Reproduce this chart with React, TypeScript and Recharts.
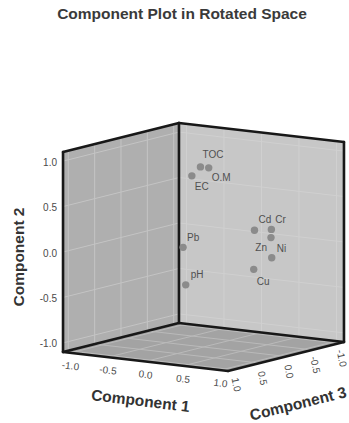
import React from 'react';
import { ScatterChart, Scatter, XAxis, YAxis } from 'recharts';

const variables = ['TOC', 'O.M', 'EC', 'Pb', 'pH', 'Cd', 'Cr', 'Zn', 'Ni', 'Cu'];
const component1 = [0.1, 0.21, -0.05, 0.29, 0.29, 0.75, 0.94, 0.97, 0.98, 0.81];
const component2 = [0.92, 0.92, 0.8, 0.14, -0.28, 0.27, 0.29, 0.21, -0.01, -0.14];
const component3 = [0.2, 0.2, 0.15, 0.8, 0.75, 0.1, 0.05, 0.1, 0.1, 0.2];

const tickValues = [-1.0, -0.5, 0.0, 0.5, 1.0];
const tickLabels = ['-1.0', '-0.5', '0.0', '0.5', '1.0'];

const FONT = '"Liberation Sans", Arial, sans-serif';
const L = 1.1; // box half-size

// oblique projection of the 3D box onto the page
const project = (c1: number, c2: number, c3: number) => ({
  x: 0.75 * c1 - 0.527 * c3,
  y: 0.909 * c2 - 0.0864 * c1 - 0.132 * c3,
});

type P3 = number[];
const toPath = (pts: P3[]) => pts.map((p) => project(p[0], p[1], p[2]));

// where each point label sits relative to its dot
const labelOffset: Record<string, { dx: number; dy: number; anchor: string }> = {
  TOC: { dx: 2, dy: -12, anchor: 'start' },
  'O.M': { dx: 3, dy: 10, anchor: 'start' },
  EC: { dx: 3, dy: 11, anchor: 'start' },
  Pb: { dx: 4, dy: -10, anchor: 'start' },
  pH: { dx: 5, dy: -10, anchor: 'start' },
  Cd: { dx: 4, dy: -11, anchor: 'start' },
  Cr: { dx: 4, dy: -10, anchor: 'start' },
  Zn: { dx: -4, dy: 10, anchor: 'end' },
  Ni: { dx: 5, dy: -9, anchor: 'start' },
  Cu: { dx: 3, dy: 12, anchor: 'start' },
};

const points = variables.map((name, i) => ({
  ...project(component1[i], component2[i], component3[i]),
  name,
}));

const faces = [
  { key: 'floor', fill: '#a3a3a3', pts: [[-L, -L, L], [-L, -L, -L], [L, -L, -L], [L, -L, L]] },
  { key: 'left', fill: '#afafaf', pts: [[-L, -L, L], [-L, L, L], [-L, L, -L], [-L, -L, -L]] },
  { key: 'right', fill: '#c7c7c7', pts: [[-L, -L, -L], [-L, L, -L], [L, L, -L], [L, -L, -L]] },
];

const gridLines: { pts: P3[]; stroke: string }[] = [];
tickValues.forEach((t) => {
  gridLines.push({ pts: [[-L, t, -L], [-L, t, L]], stroke: '#c4c4c4' });
  gridLines.push({ pts: [[-L, -L, t], [-L, L, t]], stroke: '#c4c4c4' });
  gridLines.push({ pts: [[-L, t, -L], [L, t, -L]], stroke: '#d0d0d0' });
  gridLines.push({ pts: [[t, -L, -L], [t, L, -L]], stroke: '#d0d0d0' });
  gridLines.push({ pts: [[t, -L, -L], [t, -L, L]], stroke: '#bababa' });
  gridLines.push({ pts: [[-L, -L, t], [L, -L, t]], stroke: '#bababa' });
});

const edges: P3[][] = [
  [[-L, -L, L], [-L, L, L]],
  [[-L, L, L], [-L, L, -L]],
  [[-L, -L, -L], [-L, L, -L]],
  [[-L, L, -L], [L, L, -L]],
  [[L, L, -L], [L, -L, -L]],
  [[-L, -L, L], [-L, -L, -L]],
  [[-L, -L, -L], [L, -L, -L]],
  [[-L, -L, L], [L, -L, L]],
  [[L, -L, L], [L, -L, -L]],
];

const c2Ticks = tickValues.map((t, i) => ({ ...project(-L, t, L), label: tickLabels[i] }));
const c1Ticks = tickValues.map((t, i) => ({ ...project(t, -L, L), label: tickLabels[i] }));
const c3Ticks = tickValues.map((t, i) => ({ ...project(L, -L, t), label: tickLabels[i] }));

const axisTitles = [
  { ...project(0, -L, L), label: 'Component 1', dx: -5, dy: 39, rot: 7 },
  { ...project(-L, 0, L), label: 'Component 2', dx: -45, dy: 5, rot: -90 },
  { ...project(L, -L, 0), label: 'Component 3', dx: 12, dy: 47, rot: -14 },
];

const NoDot = () => <g />;

const PointShape = (p: any) => {
  const o = labelOffset[p.payload.name];
  return (
    <g>
      <circle cx={p.cx} cy={p.cy} r={3.7} fill="#8b8b8b" />
      <text
        x={p.cx + o.dx}
        y={p.cy + o.dy}
        textAnchor={o.anchor}
        dominantBaseline="central"
        fontSize={10}
        fontFamily={FONT}
        fill="#505050"
      >
        {p.payload.name}
      </text>
    </g>
  );
};

const tickShape = (dx: number, dy: number, rot: number, anchor: string) => (p: any) => {
  const x = p.cx + dx;
  const y = p.cy + dy;
  return (
    <text
      x={x}
      y={y}
      textAnchor={anchor}
      dominantBaseline="central"
      fontSize={10}
      fontFamily={FONT}
      fill="#4a4a4a"
      transform={rot ? `rotate(${rot} ${x} ${y})` : undefined}
    >
      {p.payload.label}
    </text>
  );
};

const TitleShape = (p: any) => {
  const x = p.cx + p.payload.dx;
  const y = p.cy + p.payload.dy;
  return (
    <text
      x={x}
      y={y}
      textAnchor="middle"
      dominantBaseline="central"
      fontSize={15.5}
      fontWeight="bold"
      fontFamily={FONT}
      fill="#333"
      transform={`rotate(${p.payload.rot} ${x} ${y})`}
    >
      {p.payload.label}
    </text>
  );
};

export default function App() {
  return (
    <div style={{ position: 'absolute', left: 0, top: 0, width: 349, height: 423, background: '#fff' }}>
      <div
        style={{
          position: 'absolute',
          left: 0,
          top: 5,
          width: 364,
          textAlign: 'center',
          fontFamily: FONT,
          fontWeight: 'bold',
          fontSize: 15.5,
          color: '#3a3a3a',
        }}
      >
        Component Plot in Rotated Space
      </div>
      <ScatterChart width={349} height={423} margin={{ top: 0, right: 0, bottom: 0, left: 0 }}>
        <XAxis type="number" dataKey="x" domain={[-2.035, 1.455]} allowDataOverflow hide />
        <YAxis type="number" dataKey="y" domain={[-1.76, 2.47]} allowDataOverflow hide />
        {faces.map((f) => (
          <Scatter
            key={f.key}
            data={toPath([...f.pts, f.pts[0]])}
            line={{ fill: f.fill, stroke: 'none' }}
            shape={NoDot}
            isAnimationActive={false}
          />
        ))}
        {gridLines.map((g, i) => (
          <Scatter
            key={`grid-${i}`}
            data={toPath(g.pts)}
            line={{ stroke: g.stroke, strokeWidth: 1 }}
            shape={NoDot}
            isAnimationActive={false}
          />
        ))}
        {edges.map((e, i) => (
          <Scatter
            key={`edge-${i}`}
            data={toPath(e)}
            line={{ stroke: '#181818', strokeWidth: 2.6, strokeLinecap: 'round' }}
            shape={NoDot}
            isAnimationActive={false}
          />
        ))}
        <Scatter data={c2Ticks} shape={tickShape(-6, 1, 0, 'end')} isAnimationActive={false} />
        <Scatter data={c1Ticks} shape={tickShape(0, 13, 7, 'middle')} isAnimationActive={false} />
        <Scatter data={c3Ticks} shape={tickShape(3, 15, 78, 'middle')} isAnimationActive={false} />
        <Scatter data={axisTitles} shape={TitleShape} isAnimationActive={false} />
        <Scatter data={points} shape={PointShape} isAnimationActive={false} />
      </ScatterChart>
    </div>
  );
}
